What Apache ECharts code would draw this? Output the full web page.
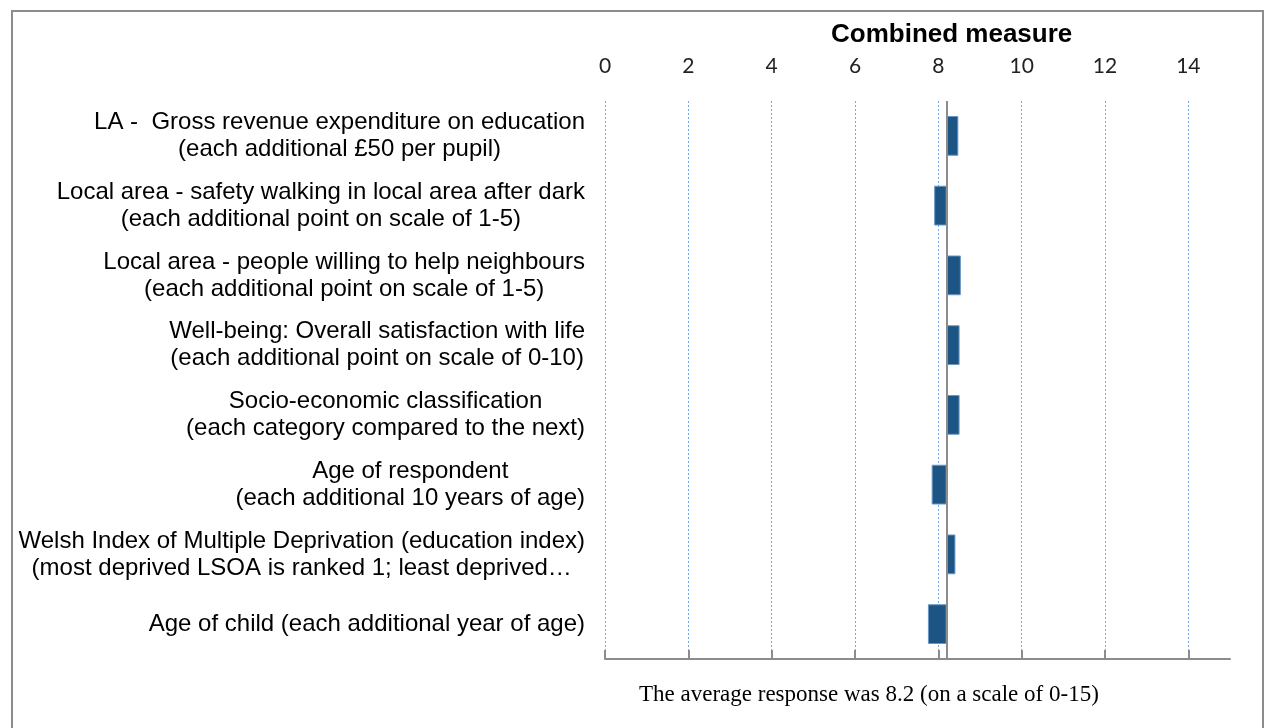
<!DOCTYPE html>
<html>
<head>
<meta charset="utf-8">
<script src="https://cdn.jsdelivr.net/npm/echarts@6/dist/echarts.min.js"></script>
<style>
  html, body { margin: 0; padding: 0; background: #fff; }
  #chart { width: 1266px; height: 728px; }
</style>
</head>
<body>
<div id="chart"></div>
<script>
  // categories, top to bottom
  const categories = [
    'LA -  Gross revenue expenditure on education\n(each additional £50 per pupil)',
    'Local area - safety walking in local area after dark\n(each additional point on scale of 1-5)',
    'Local area - people willing to help neighbours\n(each additional point on scale of 1-5)',
    'Well-being: Overall satisfaction with life\n(each additional point on scale of 0-10)',
    'Socio-economic classification\n(each category compared to the next)',
    'Age of respondent\n(each additional 10 years of age)',
    'Welsh Index of Multiple Deprivation (education index)\n(most deprived LSOA is ranked 1; least deprived…',
    'Age of child (each additional year of age)'
  ]
  // combined measure for each factor
  const values = [8.48, 7.90, 8.54, 8.51, 8.51, 7.84, 8.41, 7.75]
  const average = 8.2
  const tickLabels = [0, 2, 4, 6, 8, 10, 12, 14]

  // bars float from the average: invisible base + visible part
  const baseData = values.map(v => Math.min(v, average))
  const diffData = values.map(v => Math.abs(v - average))

  const chart = echarts.init(document.getElementById('chart'))

  const option = {
    animation: false,
    title: [
      {
        text: 'Combined measure',
        left: 826,
        top: 17,
        textStyle: { fontFamily: 'Liberation Sans', fontSize: 26, fontWeight: 'bold', color: '#000' }
      },
      {
        text: 'The average response was ' + average + ' (on a scale of 0-15)',
        left: 634,
        top: 678,
        textStyle: { fontFamily: 'Liberation Serif', fontSize: 23, fontWeight: 'normal', color: '#000' }
      }
    ],
    graphic: [
      {
        type: 'rect',
        shape: { x: 12, y: 11, width: 1251, height: 740 },
        style: { fill: 'none', stroke: '#8c8c8c', lineWidth: 2 },
        silent: true
      }
    ],
    grid: {
      left: 605,
      right: 36,
      top: 101,
      bottom: 69,
      outerBoundsMode: 'none'
    },
    xAxis: [
      {
        type: 'value',
        position: 'top',
        min: 0,
        max: 15,
        interval: 2,
        axisLine: { show: false },
        axisTick: { show: false },
        axisLabel: {
          margin: 24,
          fontFamily: 'Lato',
          fontSize: 21,
          color: '#222',
          formatter: v => (tickLabels.indexOf(v) >= 0 ? String(v) : '')
        },
        splitLine: {
          show: true,
          showMaxLine: false,
          lineStyle: { color: '#3f85ea', type: [2, 2], width: 1, opacity: 0.7 }
        }
      },
      {
        type: 'value',
        position: 'bottom',
        min: 0,
        max: 15,
        interval: 2,
        axisLine: { show: true, lineStyle: { color: '#8c8c8c', width: 2 } },
        axisTick: {
          show: true,
          inside: true,
          length: 9,
          customValues: tickLabels,
          lineStyle: { color: '#8c8c8c', width: 2 }
        },
        axisLabel: { show: false },
        splitLine: { show: false }
      }
    ],
    yAxis: {
      type: 'category',
      inverse: true,
      data: categories,
      axisLine: { show: false },
      axisTick: { show: false },
      axisLabel: {
        margin: 20,
        align: 'right',
        formatter: v => v.split('\n').map(l => '{c|' + l + '}').join('\n'),
        rich: {
          c: {
            align: 'center',
            fontFamily: 'Liberation Sans',
            fontSize: 24,
            lineHeight: 27,
            color: '#000'
          }
        }
      }
    },
    series: [
      {
        type: 'bar',
        stack: 'total',
        data: baseData,
        barCategoryGap: '43%',
        itemStyle: { color: 'transparent' },
        silent: true
      },
      {
        type: 'bar',
        stack: 'total',
        data: diffData,
        barCategoryGap: '43%',
        itemStyle: { color: '#1c5584', borderColor: '#6b96c2', borderWidth: 1 },
        markLine: {
          silent: true,
          symbol: 'none',
          label: { show: false },
          lineStyle: { color: '#8c8c8c', width: 2, type: 'solid' },
          data: [{ xAxis: average }]
        }
      }
    ]
  }

  chart.setOption(option)
  window.onresize = () => {
    chart.resize()
  }
</script>
</body>
</html>
